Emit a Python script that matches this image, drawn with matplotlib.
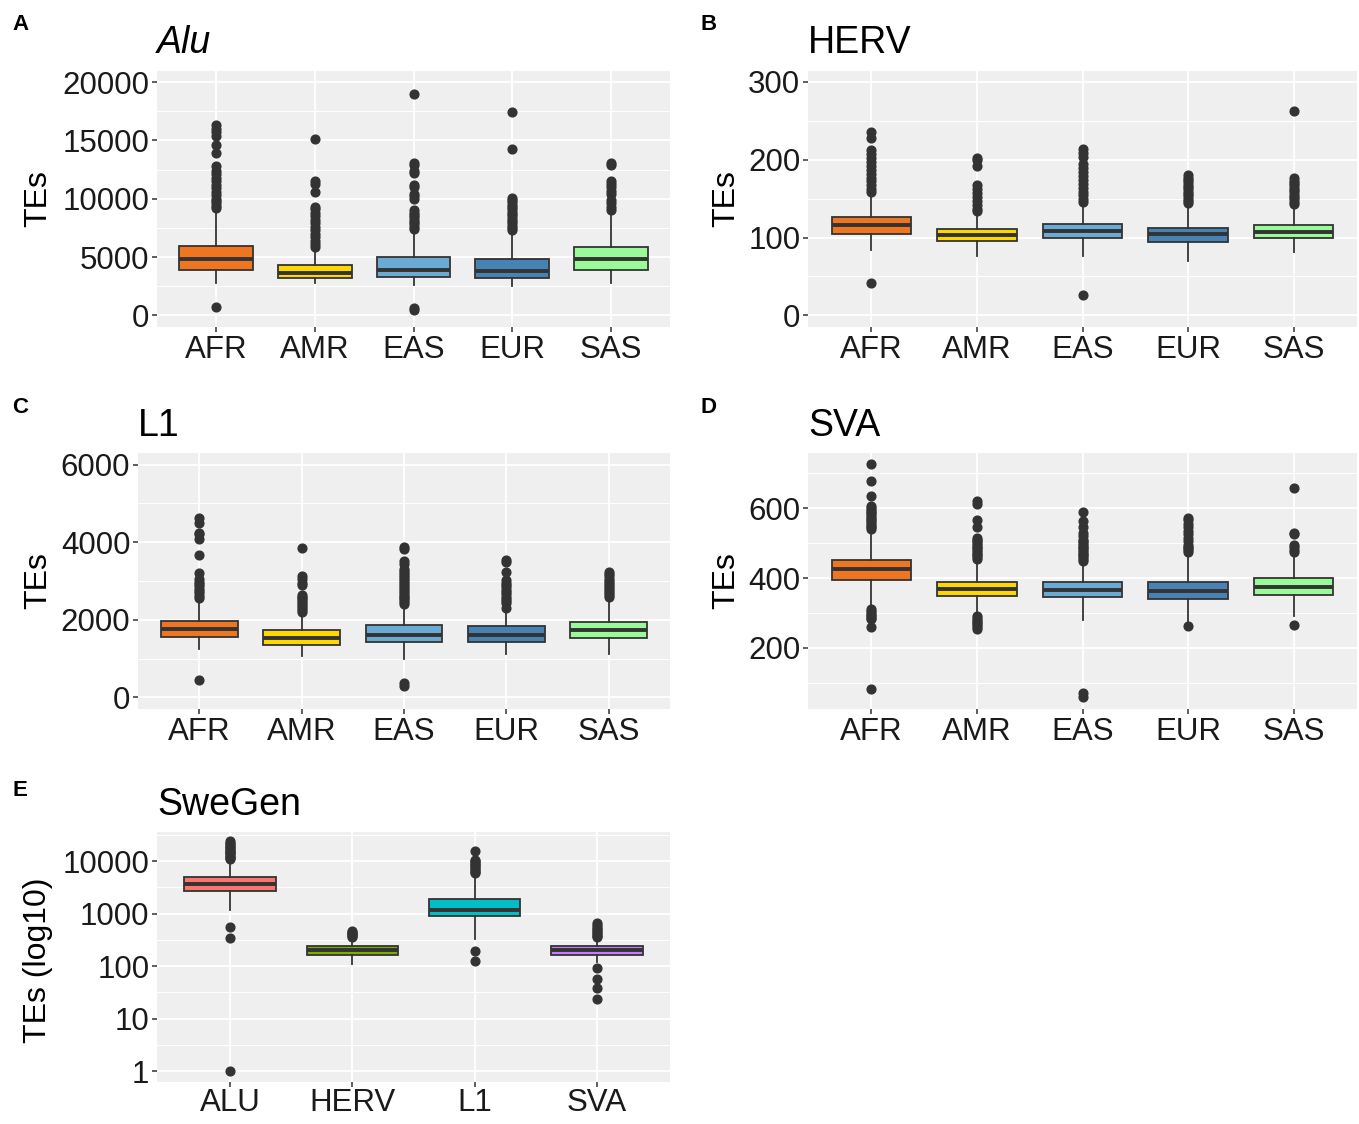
import matplotlib
matplotlib.use('Agg')
import matplotlib.pyplot as plt
from matplotlib.ticker import FixedLocator, NullLocator, FixedFormatter

plt.rcParams['font.family'] = ['Liberation Sans', 'DejaVu Sans']

# ---------------- data ----------------
pops = ["AFR", "AMR", "EAS", "EUR", "SAS"]
pop_colors = ["#EE7621", "#FFD700", "#6CAAD6", "#4682B4", "#98FB98"]

# Panel A: Alu
alu_q1 = [3870, 3210, 3300, 3210, 3930]
alu_med = [4790, 3590, 3870, 3820, 4790]
alu_q3 = [5970, 4300, 4960, 4820, 5830]
alu_lo = [2730, 2780, 2640, 2530, 2730]
alu_hi = [9000, 5800, 7300, 7100, 8600]
alu_out = [
    [16300, 16000, 15700, 15400, 14600, 13900, 12800, 12400, 12100, 11800, 11500, 11200,
     10900, 10600, 10300, 10000, 9800, 9600, 9400, 9200, 720],
    [15100, 11500, 11300, 10600, 9300, 9100, 8800, 8500, 8200, 7900, 7600, 7300, 7000,
     6700, 6400, 6100, 5900],
    [19000, 13100, 12900, 12400, 12200, 11200, 11000, 10400, 10200, 10000, 9000, 8800,
     8600, 8400, 8200, 8000, 7800, 7600, 7400, 600, 450],
    [17400, 14300, 10100, 9900, 9700, 9500, 9300, 9100, 8900, 8700, 8500, 8300, 8100,
     7900, 7700, 7500, 7300],
    [13100, 12900, 11500, 11300, 11000, 10700, 10400, 9900, 9600, 9300, 9000],
]

# Panel B: HERV
herv_q1 = [105, 96, 99, 94, 99]
herv_med = [116, 103, 108, 104, 107]
herv_q3 = [127, 111, 117, 112, 116]
herv_lo = [84, 76, 76, 70, 82]
herv_hi = [155, 133, 144, 140, 140]
herv_out = [
    [235, 228, 212, 207, 202, 197, 192, 187, 182, 177, 172, 167, 162, 158, 41],
    [202, 200, 192, 167, 162, 157, 152, 147, 142, 137, 134],
    [214, 209, 204, 194, 189, 184, 179, 174, 169, 164, 159, 154, 149, 146, 26],
    [180, 177, 174, 171, 168, 165, 162, 159, 156, 153, 150, 147, 144],
    [263, 176, 173, 170, 167, 164, 161, 158, 155, 152, 149, 146, 143],
]

# Panel C: L1
l1_q1 = [1560, 1360, 1430, 1430, 1540]
l1_med = [1750, 1540, 1620, 1620, 1730]
l1_q3 = [1970, 1730, 1860, 1830, 1950]
l1_lo = [1240, 1060, 1000, 1120, 1120]
l1_hi = [2530, 2140, 2360, 2230, 2530]
l1_out = [
    [4620, 4500, 4250, 4200, 4070, 3670, 3200, 3050, 2980, 2920, 2860, 2800, 2740,
     2680, 2620, 2560, 440],
    [3850, 3120, 3050, 2950, 2900, 2650, 2600, 2550, 2500, 2450, 2400, 2350, 2300,
     2250, 2200],
    [3870, 3820, 3520, 3450, 3300, 3250, 3200, 3150, 3100, 3050, 3000, 2950, 2900,
     2850, 2800, 2750, 2700, 2650, 2600, 2550, 2500, 2450, 2400, 370, 300],
    [3550, 3500, 3220, 3020, 2960, 2900, 2840, 2780, 2720, 2660, 2600, 2540, 2480,
     2420, 2300],
    [3220, 3180, 3120, 3060, 3000, 2950, 2900, 2850, 2800, 2750, 2700, 2650, 2600],
]

# Panel D: SVA
sva_q1 = [394, 349, 345, 339, 351]
sva_med = [425, 370, 367, 364, 375]
sva_q3 = [452, 389, 388, 388, 401]
sva_lo = [315, 295, 281, 270, 292]
sva_hi = [535, 450, 445, 470, 470]
sva_out = [
    [727, 677, 636, 605, 600, 595, 590, 585, 580, 575, 570, 565, 560, 555, 550, 545, 540,
     310, 305, 300, 295, 290, 285, 282, 260, 83],
    [620, 612, 565, 545, 515, 510, 505, 500, 495, 490, 485, 480, 475, 470, 465, 460, 455,
     290, 285, 280, 275, 270, 265, 260, 255],
    [590, 562, 545, 530, 520, 510, 505, 500, 495, 490, 485, 480, 475, 470, 465, 460, 455,
     450, 70, 60],
    [572, 565, 555, 545, 535, 525, 515, 505, 495, 490, 485, 480, 475, 262],
    [658, 530, 525, 495, 490, 480, 475, 265],
]

# Panel E: SweGen (log10 axis)
swe_groups = ["ALU", "HERV", "L1", "SVA"]
swe_colors = ["#F8766D", "#7CAE00", "#00BFC4", "#C77CFF"]
swe_q1 = [2720, 163, 890, 163]
swe_med = [3680, 205, 1150, 205]
swe_q3 = [4990, 237, 1880, 237]
swe_lo = [1190, 111, 325, 119]
swe_hi = [10200, 340, 5700, 350]
swe_out = [
    [24000, 22500, 21000, 19800, 18700, 17700, 16700, 15800, 15000, 14200, 13500, 12800,
     12200, 11600, 11000, 560, 340, 1],
    [470, 450, 430, 410, 390, 370, 355],
    [15800, 10500, 10000, 9500, 9000, 8500, 8000, 7500, 7000, 6600, 6200, 5900, 196, 124],
    [650, 600, 560, 520, 480, 450, 420, 400, 380, 360, 93, 56, 38, 24],
]

# ---------------- drawing ----------------
W, H = 1359, 1124
fig = plt.figure(figsize=(W / 100, H / 100), dpi=100)
DARK = '#333333'
TICK_FS = 22.5


def make_ax(l, t, r, b):
    return fig.add_axes([l / W, 1 - b / H, (r - l) / W, (b - t) / H])


def draw(ax, cats, q1, med, q3, lo, hi, outs, colors, ylim, yticks, yminor,
         log=False, ticklabels=None, xpad=2):
    ax.set_facecolor('#EFEFEF')
    stats = []
    for i, c in enumerate(cats):
        stats.append(dict(q1=q1[i], med=med[i], q3=q3[i], whislo=lo[i], whishi=hi[i],
                          fliers=outs[i], label=c))
    pos = list(range(1, len(cats) + 1))
    if log:
        ax.set_yscale('log')
    bp = ax.bxp(stats, positions=pos, widths=0.75, patch_artist=True, showcaps=False,
                boxprops=dict(edgecolor=DARK, linewidth=1.3),
                medianprops=dict(color=DARK, linewidth=2.8, solid_capstyle='butt'),
                whiskerprops=dict(color=DARK, linewidth=1.3),
                flierprops=dict(marker='o', markerfacecolor=DARK, markeredgecolor=DARK,
                                markersize=6.3, linestyle='none'))
    for patch, col in zip(bp['boxes'], colors):
        patch.set_facecolor(col)
    ax.set_xlim(0.4, len(cats) + 0.6)
    ax.set_ylim(*ylim)
    ax.yaxis.set_major_locator(FixedLocator(yticks))
    if ticklabels is not None:
        ax.yaxis.set_major_formatter(FixedFormatter(ticklabels))
    else:
        ax.yaxis.set_major_formatter(FixedFormatter([str(v) for v in yticks]))
    ax.yaxis.set_minor_locator(FixedLocator(yminor))
    ax.xaxis.set_minor_locator(NullLocator())
    ax.set_xticks(pos)
    ax.set_xticklabels(cats)
    ax.set_axisbelow(True)
    ax.grid(True, which='major', color='white', linewidth=1.3)
    ax.grid(True, which='minor', axis='y', color='white', linewidth=0.7)
    for s in ax.spines.values():
        s.set_visible(False)
    ax.tick_params(axis='both', which='major', length=3.5, width=1.1, color=DARK,
                   labelsize=TICK_FS, labelcolor='#1a1a1a', pad=2)
    ax.tick_params(axis='x', which='major', pad=xpad)
    ax.tick_params(axis='both', which='minor', length=0)


axA = make_ax(157, 71, 670, 327)
draw(axA, pops, alu_q1, alu_med, alu_q3, alu_lo, alu_hi, alu_out, pop_colors,
     (-1000, 20950), [0, 5000, 10000, 15000, 20000], [2500, 7500, 12500, 17500])

axB = make_ax(808, 71, 1357, 327)
draw(axB, pops, herv_q1, herv_med, herv_q3, herv_lo, herv_hi, herv_out, pop_colors,
     (-15, 314), [0, 100, 200, 300], [50, 150, 250])

axC = make_ax(138, 453, 670, 709)
draw(axC, pops, l1_q1, l1_med, l1_q3, l1_lo, l1_hi, l1_out, pop_colors,
     (-300, 6300), [0, 2000, 4000, 6000], [1000, 3000, 5000])

axD = make_ax(808, 453, 1357, 709)
draw(axD, pops, sva_q1, sva_med, sva_q3, sva_lo, sva_hi, sva_out, pop_colors,
     (25, 758), [200, 400, 600], [100, 300, 500, 700])

axE = make_ax(157, 832, 670, 1082)
draw(axE, swe_groups, swe_q1, swe_med, swe_q3, swe_lo, swe_hi, swe_out, swe_colors,
     (0.62, 36000), [1, 10, 100, 1000, 10000],
     [10 ** 0.5, 10 ** 1.5, 10 ** 2.5, 10 ** 3.5, 10 ** 4.5], log=True,
     ticklabels=["1", "10", "100", "1000", "10000"], xpad=1)

# titles
title_fs = 27
fig.text(157 / W, 1 - 53 / H, "Alu", fontsize=title_fs, style='italic', va='baseline')
fig.text(808 / W, 1 - 53 / H, "HERV", fontsize=title_fs, va='baseline')
fig.text(138 / W, 1 - 436 / H, "L1", fontsize=title_fs, va='baseline')
fig.text(808 / W, 1 - 436 / H, "SVA", fontsize=title_fs, va='baseline')
fig.text(157 / W, 1 - 815 / H, "SweGen", fontsize=title_fs, va='baseline')

# panel letters
for lab, x, y in [("A", 12, 30), ("B", 700, 30), ("C", 12, 413), ("D", 700, 413),
                  ("E", 12, 796)]:
    fig.text(x / W, 1 - y / H, lab, fontsize=16, fontweight='bold', va='baseline')

# y-axis labels
ylab_fs = 23
fig.text(38 / W, 1 - 199 / H, "TEs", fontsize=ylab_fs, rotation=90, ha='center', va='center')
fig.text(726 / W, 1 - 199 / H, "TEs", fontsize=ylab_fs, rotation=90, ha='center', va='center')
fig.text(38 / W, 1 - 581 / H, "TEs", fontsize=ylab_fs, rotation=90, ha='center', va='center')
fig.text(726 / W, 1 - 581 / H, "TEs", fontsize=ylab_fs, rotation=90, ha='center', va='center')
fig.text(38 / W, 1 - 960 / H, "TEs (log10)", fontsize=ylab_fs, rotation=90, ha='center',
         va='center')

fig.savefig('out.png', dpi=100, facecolor='white')
